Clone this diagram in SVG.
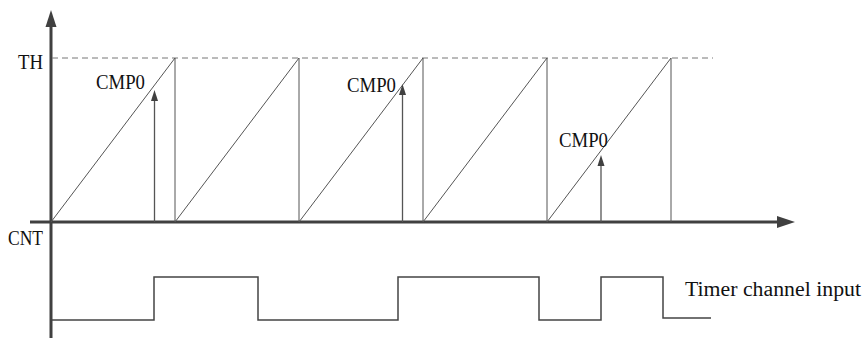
<svg xmlns="http://www.w3.org/2000/svg" width="863" height="338" viewBox="0 0 863 338">
<defs>
<style>
.lbl{font-family:"Liberation Serif","Times New Roman",serif;font-size:20px;fill:#111}
.axis{stroke:#404040;stroke-width:3;fill:none}
.saw{stroke:#555;stroke-width:1;fill:none}
.cmp{stroke:#555;stroke-width:1.3;fill:none}
.sq{stroke:#444;stroke-width:1.5;fill:none}
.th{stroke:#777;stroke-width:1;stroke-dasharray:6 4;fill:none}
.head{fill:#404040}
</style>
</defs>
<rect width="863" height="338" fill="#fff"/>
<g id="axes">
<line class="axis" x1="51" y1="26" x2="51" y2="338"/>
<polygon class="head" points="51,10 45.5,27 56.5,27"/>
<line class="axis" x1="30" y1="222" x2="778" y2="222"/>
<polygon class="head" points="795,222 777,216 777,228"/>
<text class="lbl" x="43" y="69" text-anchor="end" textLength="25" lengthAdjust="spacingAndGlyphs">TH</text>
<text class="lbl" x="43" y="245" text-anchor="end" textLength="35" lengthAdjust="spacingAndGlyphs">CNT</text>
</g>
<g id="th-line">
<line class="th" x1="52" y1="58" x2="713" y2="58"/>
</g>
<g id="counter">
<path class="saw" d="M51,222 L175,58 L175,222 L299,58 L299,222 L423,58 L423,222 L547,58 L547,222 L671,58 L671,222"/>
</g>
<g id="connectors">
<line class="cmp" x1="154.5" y1="222" x2="154.5" y2="99"/>
<polygon class="head" points="154.5,90 151,101 158,101"/>
<line class="cmp" x1="402.5" y1="222" x2="402.5" y2="93"/>
<polygon class="head" points="402.5,84 399,95 406,95"/>
<line class="cmp" x1="601" y1="222" x2="601" y2="164"/>
<polygon class="head" points="601,155 597.5,166 604.5,166"/>
</g>
<g id="cmp-labels">
<text class="lbl" x="96" y="89" textLength="49" lengthAdjust="spacingAndGlyphs">CMP0</text>
<text class="lbl" x="347" y="92" textLength="49" lengthAdjust="spacingAndGlyphs">CMP0</text>
<text class="lbl" x="559" y="147" textLength="49" lengthAdjust="spacingAndGlyphs">CMP0</text>
</g>
<g id="input-signal">
<path class="sq" d="M52,320 L154,320 L154,277 L258,277 L258,320 L398,320 L398,277 L539,277 L539,320 L601,320 L601,277 L663,277 L663,318 L711,318"/>
<text class="lbl" x="685" y="296" textLength="176" lengthAdjust="spacingAndGlyphs">Timer channel input</text>
</g>
</svg>
